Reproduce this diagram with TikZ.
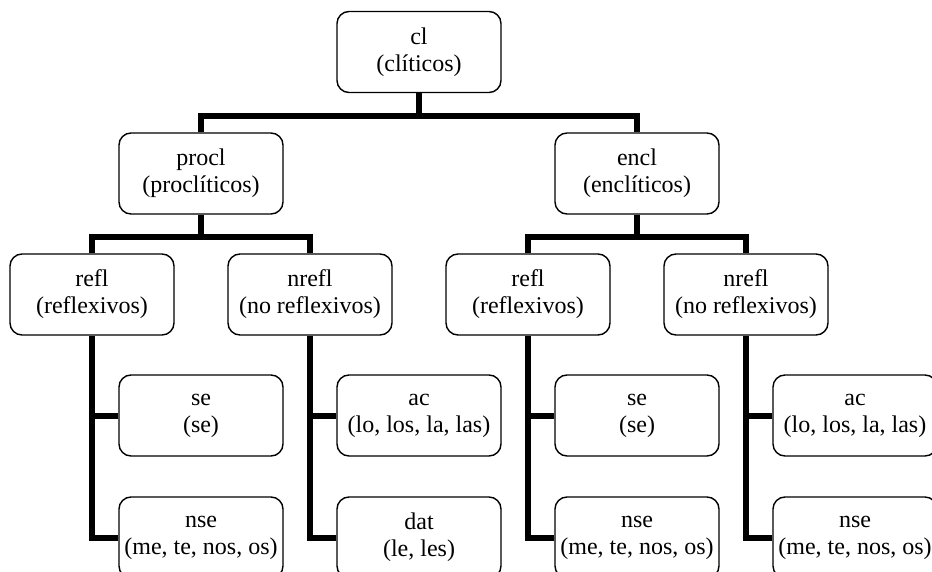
\documentclass[tikz,border=0pt]{standalone}
\usepackage{fontspec}
\setmainfont{Liberation Serif}
\begin{document}
\begin{tikzpicture}[x=1pt,y=-1pt,
  box/.style={draw, line width=1.4pt, rounded corners=12pt, fill=white,
    minimum width=164pt, minimum height=81pt, align=center, inner sep=0pt,
    font=\fontsize{24}{27}\selectfont},
  conn/.style={line width=6pt, line join=miter}]
\useasboundingbox (0,0) rectangle (932,572);
\node[box] (cl) at (419,52) {cl\\(clíticos)};
\node[box] (procl) at (201,173.5) {procl\\(proclíticos)};
\node[box] (encl) at (637,173.5) {encl\\(enclíticos)};
\node[box] (reflA) at (92,294.5) {refl\\(reflexivos)};
\node[box] (nreflA) at (310,294.5) {nrefl\\(no reflexivos)};
\node[box] (reflB) at (528,294.5) {refl\\(reflexivos)};
\node[box] (nreflB) at (746,294.5) {nrefl\\(no reflexivos)};
\node[box] (seA) at (201,415.5) {se\\(se)};
\node[box] (nseA) at (201,537.5) {nse\\(me, te, nos, os)};
\node[box] (acA) at (419,415.5) {ac\\(lo, los, la, las)};
\node[box] (datA) at (419,537.5) {dat\\(le, les)};
\node[box] (seB) at (637,415.5) {se\\(se)};
\node[box] (nseB) at (637,537.5) {nse\\(me, te, nos, os)};
\node[box] (acB) at (855,415.5) {ac\\(lo, los, la, las)};
\node[box] (nseC) at (855,537.5) {nse\\(me, te, nos, os)};
% connectors
\draw[conn] (cl.south) -- ++(0,23) coordinate (b0);
\draw[conn] (procl.north) |- (b0) -| (encl.north);
\draw[conn] (procl.south) -- ++(0,22) coordinate (b1);
\draw[conn] (reflA.north) |- (b1) -| (nreflA.north);
\draw[conn] (encl.south) -- ++(0,22) coordinate (b2);
\draw[conn] (reflB.north) |- (b2) -| (nreflB.north);
\draw[conn] (reflA.south) |- (nseA.west);
\draw[conn] (reflA.south |- seA.west) -- (seA.west);
\draw[conn] (nreflA.south) |- (datA.west);
\draw[conn] (nreflA.south |- acA.west) -- (acA.west);
\draw[conn] (reflB.south) |- (nseB.west);
\draw[conn] (reflB.south |- seB.west) -- (seB.west);
\draw[conn] (nreflB.south) |- (nseC.west);
\draw[conn] (nreflB.south |- acB.west) -- (acB.west);
\end{tikzpicture}
\end{document}
